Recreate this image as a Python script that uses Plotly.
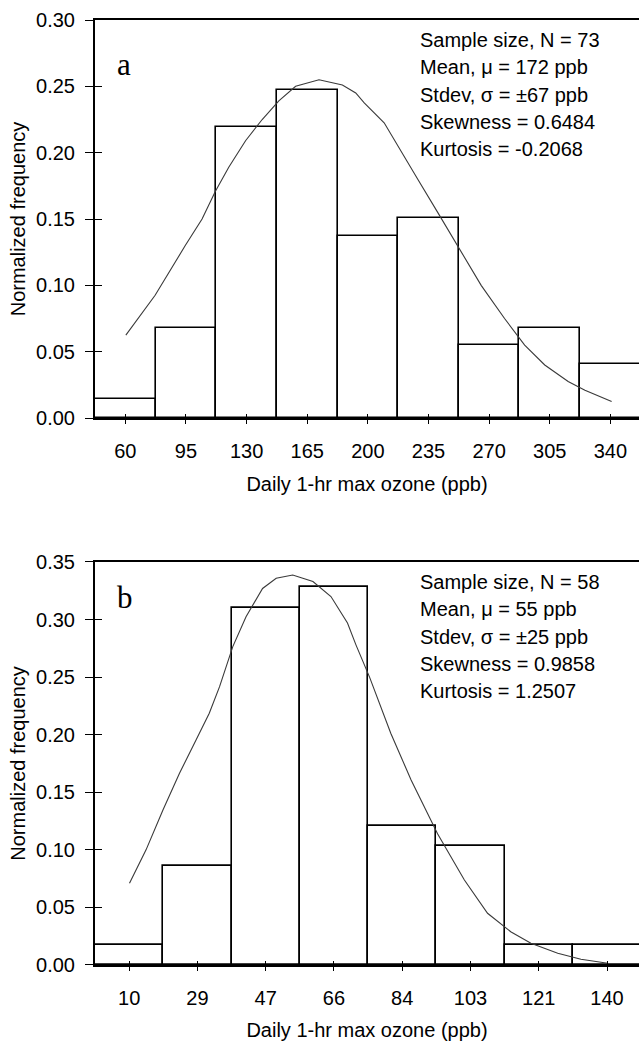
import plotly.graph_objects as go

# ---------------- data: panel a ----------------
a_centers = [60, 95, 130, 165, 200, 235, 270, 305, 340]
a_freq = [0.014, 0.068, 0.219, 0.247, 0.137, 0.151, 0.055, 0.068, 0.041]
a_tick_labels = ["60", "95", "130", "165", "200", "235", "270", "305", "340"]
a_bin_width = 35
a_curve_x = [60.3, 77.2, 94.6, 104.3, 112.0, 119.7, 129.4, 139.0, 148.6, 158.3, 171.8,
             185.3, 193.0, 197.9, 209.4, 217.2, 228.8, 240.3, 253.8, 265.4, 278.9, 290.5,
             302.1, 315.6, 325.3, 340.7]
a_curve_y = [0.0625, 0.0925, 0.130, 0.150, 0.171, 0.189, 0.209, 0.225, 0.239, 0.250, 0.255,
             0.251, 0.245, 0.2375, 0.2225, 0.205, 0.180, 0.155, 0.125, 0.100, 0.075, 0.055,
             0.040, 0.0275, 0.021, 0.0125]
a_stats = ["Sample size, N = 73", "Mean, \u03bc = 172 ppb", "Stdev, \u03c3 = \u00b167 ppb",
           "Skewness = 0.6484", "Kurtosis = -0.2068"]

# ---------------- data: panel b ----------------
b_centers = [10, 28.57, 47.14, 65.71, 84.29, 102.86, 121.43, 140]
b_freq = [0.017, 0.086, 0.310, 0.328, 0.121, 0.103, 0.017, 0.017]
b_tick_labels = ["10", "29", "47", "66", "84", "103", "121", "140"]
b_bin_width = 18.57
b_curve_x = [10.1, 14.6, 19.2, 23.7, 28.2, 31.8, 34.6, 38.2, 41.8, 46.3, 50.0, 54.5, 60.0,
             64.9, 69.4, 71.7, 75.4, 81.2, 86.7, 93.9, 101.2, 107.5, 113.8, 119.3, 126.6,
             132.9, 140.2]
b_curve_y = [0.071, 0.100, 0.1346, 0.1665, 0.1954, 0.2186, 0.2417, 0.2765, 0.3025, 0.327,
             0.3358, 0.3387, 0.333, 0.320, 0.297, 0.278, 0.250, 0.201, 0.1607, 0.114, 0.0738,
             0.0449, 0.0289, 0.0188, 0.0102, 0.005, 0.0015]
b_stats = ["Sample size, N = 58", "Mean, \u03bc = 55 ppb", "Stdev, \u03c3 = \u00b125 ppb",
           "Skewness = 0.9858", "Kurtosis = 1.2507"]

x_title = "Daily 1-hr max ozone (ppb)"
y_title = "Normalized frequency"

FONT = "Arial, 'Liberation Sans', sans-serif"
SERIF = "'Liberation Serif', 'Times New Roman', serif"

fig = go.Figure()

bar_style = dict(marker=dict(color="white", line=dict(color="black", width=1.6)),
                 showlegend=False, hoverinfo="skip")
curve_style = dict(mode="lines", line=dict(color="#3a3a3a", width=1.1),
                   showlegend=False, hoverinfo="skip")

fig.add_trace(go.Bar(x=a_centers, y=a_freq, width=a_bin_width, xaxis="x", yaxis="y", **bar_style))
fig.add_trace(go.Scatter(x=a_curve_x, y=a_curve_y, xaxis="x", yaxis="y", **curve_style))
fig.add_trace(go.Bar(x=b_centers, y=b_freq, width=b_bin_width, xaxis="x2", yaxis="y2", **bar_style))
fig.add_trace(go.Scatter(x=b_curve_x, y=b_curve_y, xaxis="x2", yaxis="y2", **curve_style))

# empty traces to activate overlay axes (used for the inner half of crossing ticks)
for xa, ya in [("x3", "y"), ("x", "y3"), ("x4", "y2"), ("x2", "y4")]:
    fig.add_trace(go.Scatter(x=[None], y=[None], xaxis=xa, yaxis=ya, mode="markers",
                             showlegend=False, hoverinfo="skip"))

a_range = [42.5, 356.5]
b_range = [0.714, 148.7]
tickfont = dict(family=FONT, size=20, color="black")
titlefont = dict(family=FONT, size=20, color="black")

def xaxis_main(rng, vals, labels, anchor, title_standoff):
    return dict(range=rng, tickmode="array", tickvals=vals, ticktext=labels,
                ticks="outside", ticklen=4, tickwidth=1.3, tickcolor="black",
                showline=True, linewidth=2, linecolor="black", mirror=True,
                showgrid=False, zeroline=False, tickfont=tickfont, anchor=anchor,
                ticklabelstandoff=10, automargin=False,
                title=dict(text=x_title, font=titlefont, standoff=title_standoff))

def yaxis_main(rng, domain, anchor):
    return dict(range=rng, dtick=0.05, tick0=0, tickformat=".2f", domain=domain,
                ticks="outside", ticklen=8, tickwidth=1.3, tickcolor="black",
                showline=True, linewidth=2, linecolor="black", mirror=False,
                showgrid=False, zeroline=False, tickfont=tickfont, anchor=anchor,
                ticklabelstandoff=6,
                title=dict(text=y_title, font=titlefont, standoff=5), automargin=False)

def xaxis_inner(rng, vals, over, anchor):
    return dict(range=rng, tickmode="array", tickvals=vals, overlaying=over, anchor=anchor,
                ticks="inside", ticklen=4, tickwidth=1.3, tickcolor="black",
                showticklabels=False, showline=False, showgrid=False, zeroline=False)

def yaxis_inner(rng, over, anchor):
    return dict(range=rng, dtick=0.05, tick0=0, overlaying=over, anchor=anchor,
                ticks="inside", ticklen=7, tickwidth=1.3, tickcolor="black",
                showticklabels=False, showline=False, showgrid=False, zeroline=False)

top_dom = [0.5788, 1.0]
bot_dom = [0.0, 0.4265]

fig.update_layout(
    width=639, height=1041,
    margin=dict(l=95, r=0, t=20, b=76),
    paper_bgcolor="white", plot_bgcolor="white",
    bargap=0, barmode="overlay",
    xaxis=xaxis_main(a_range, a_centers, a_tick_labels, "y", 16),
    yaxis=yaxis_main([0, 0.30], top_dom, "x"),
    xaxis2=xaxis_main(b_range, b_centers, b_tick_labels, "y2", 19),
    yaxis2=yaxis_main([0, 0.35], bot_dom, "x2"),
    xaxis3=xaxis_inner(a_range, a_centers, "x", "y"),
    yaxis3=yaxis_inner([0, 0.30], "y", "x"),
    xaxis4=xaxis_inner(b_range, b_centers, "x2", "y2"),
    yaxis4=yaxis_inner([0, 0.35], "y2", "x2"),
)

annotations = []
line_gap = 27.3
for stats, yref, dom_px in [(a_stats, "y domain", (20, 418)), (b_stats, "y2 domain", (562, 965))]:
    top_px, bot_px = dom_px
    h = bot_px - top_px
    xref = "x domain" if yref == "y domain" else "x2 domain"
    for i, s in enumerate(stats):
        base_px = top_px + 32 + i * line_gap
        annotations.append(dict(text=s, xref=xref, yref=yref, x=(419 - 95) / 544,
                                y=(bot_px - base_px) / h, xanchor="left", yanchor="bottom",
                                showarrow=False, font=dict(family=FONT, size=20, color="black"),
                                borderpad=0))

annotations.append(dict(text="a", xref="x domain", yref="y domain", x=(116 - 95) / 544,
                        y=(418 - 83) / 398, xanchor="left", yanchor="bottom", showarrow=False,
                        font=dict(family=SERIF, size=31, color="black"), borderpad=0))
annotations.append(dict(text="b", xref="x2 domain", yref="y2 domain", x=(116 - 95) / 544,
                        y=(965 - 616) / 403, xanchor="left", yanchor="bottom", showarrow=False,
                        font=dict(family=SERIF, size=31, color="black"), borderpad=0))
fig.update_layout(annotations=annotations)

fig.write_html("out.html")
